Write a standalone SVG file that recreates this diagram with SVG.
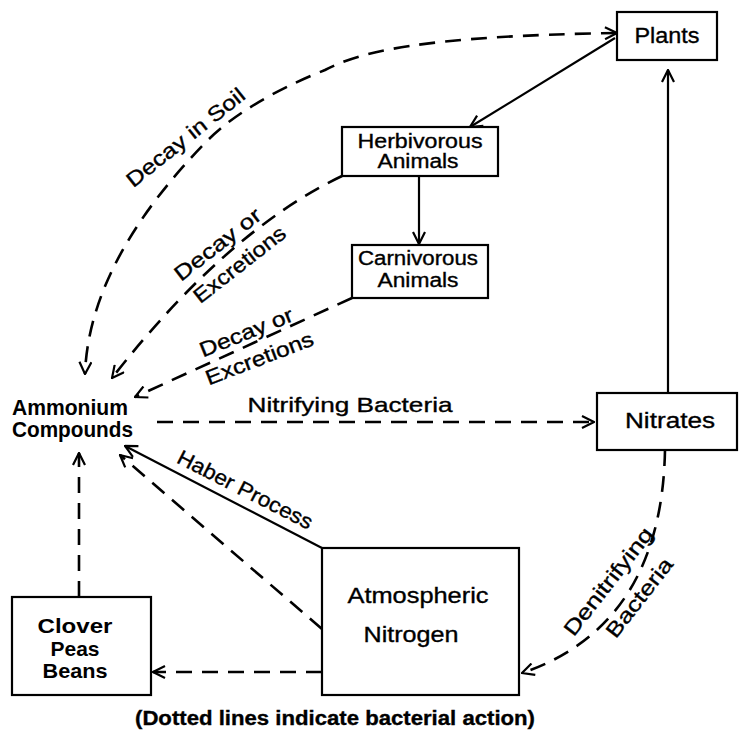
<svg xmlns="http://www.w3.org/2000/svg" width="739" height="733" viewBox="0 0 739 733">
<style>
text{font-family:"Liberation Sans",Arial,sans-serif;fill:#000;stroke:#000;stroke-width:0.35}
.n{font-size:22px;text-anchor:middle}
.n2{font-size:20px;text-anchor:middle}
.b{font-size:21.5px;font-weight:bold;stroke-width:0}
.bc{font-size:21px;font-weight:bold;text-anchor:middle;stroke-width:0}
.e{font-size:21px;text-anchor:middle}
.box{fill:#fff;stroke:#000;stroke-width:2.2}
.s{fill:none;stroke:#000;stroke-width:2.2}
.d{fill:none;stroke:#000;stroke-width:2.6;stroke-dasharray:16 10}
</style>
<defs>
<marker id="ah" viewBox="0 0 14 14" refX="13" refY="7" markerWidth="14" markerHeight="14" markerUnits="userSpaceOnUse" orient="auto-start-reverse">
<path d="M1,1 L13,7 L1,13" fill="none" stroke="#000" stroke-width="2.2" stroke-dasharray="none"/>
</marker>
</defs>
<rect width="739" height="733" fill="#fff"/>
<g id="connectors">
<path class="s" d="M615,38 L470,127" marker-end="url(#ah)"/>
<path class="s" d="M419,176 L419,244" marker-end="url(#ah)"/>
<path class="s" d="M668,393 L668,70" marker-end="url(#ah)"/>
<path class="d" d="M617,33 C420,36 360,52 325,70 C290,84 240,108 208,140 C139,210 88,290 85,374" marker-start="url(#ah)" marker-end="url(#ah)"/>
<path class="d" d="M342,176 Q227,231 112,378" marker-end="url(#ah)"/>
<path class="d" d="M352,298 L135,397" marker-end="url(#ah)"/>
<path class="d" d="M157,422 L594,422" marker-end="url(#ah)"/>
<path class="d" d="M79,597 L79,453" marker-end="url(#ah)"/>
<path class="s" d="M322,548 L125,446" marker-end="url(#ah)"/>
<path class="d" d="M322,629 L120,455" marker-end="url(#ah)"/>
<path class="d" d="M322,672 L153,672" marker-end="url(#ah)"/>
<path class="d" d="M665,450 C663,560 620,640 522,673" marker-end="url(#ah)"/>
<text class="e" transform="translate(190,143) rotate(-38.5)" textLength="145" lengthAdjust="spacingAndGlyphs">Decay in Soil</text>
<text class="e" transform="translate(222,250) rotate(-38)" textLength="104" lengthAdjust="spacingAndGlyphs">Decay or</text>
<text class="e" transform="translate(244,270) rotate(-38)" textLength="111" lengthAdjust="spacingAndGlyphs">Excretions</text>
<text class="e" transform="translate(249,339) rotate(-22)" textLength="99" lengthAdjust="spacingAndGlyphs">Decay or</text>
<text class="e" transform="translate(262,365) rotate(-21)" textLength="114" lengthAdjust="spacingAndGlyphs">Excretions</text>
<text class="e" x="350" y="412" textLength="205" lengthAdjust="spacingAndGlyphs">Nitrifying Bacteria</text>
<text class="e" transform="translate(242,496) rotate(27)" textLength="149" lengthAdjust="spacingAndGlyphs">Haber Process</text>
<text class="e" transform="translate(614,586) rotate(-52)" textLength="131" lengthAdjust="spacingAndGlyphs">Denitrifying</text>
<text class="e" transform="translate(645,602) rotate(-52)" textLength="95" lengthAdjust="spacingAndGlyphs">Bacteria</text>
</g>
<g id="plants">
<rect class="box" x="617" y="12" width="100" height="48"/>
<text class="n" x="667" y="43" textLength="65" lengthAdjust="spacingAndGlyphs">Plants</text>
</g>
<g id="herbivorous">
<rect class="box" x="342" y="127" width="156" height="49"/>
<text class="n2" x="420" y="148" textLength="125" lengthAdjust="spacingAndGlyphs">Herbivorous</text>
<text class="n2" x="418" y="168" textLength="81" lengthAdjust="spacingAndGlyphs">Animals</text>
</g>
<g id="carnivorous">
<rect class="box" x="352" y="245" width="136" height="53"/>
<text class="n2" x="418" y="265" textLength="120" lengthAdjust="spacingAndGlyphs">Carnivorous</text>
<text class="n2" x="418" y="287" textLength="81" lengthAdjust="spacingAndGlyphs">Animals</text>
</g>
<g id="ammonium">
<text class="b" x="12" y="415" textLength="116" lengthAdjust="spacingAndGlyphs">Ammonium</text>
<text class="b" x="12" y="437" textLength="121" lengthAdjust="spacingAndGlyphs">Compounds</text>
</g>
<g id="nitrates">
<rect class="box" x="597" y="393" width="140" height="57"/>
<text class="n" x="670" y="428" textLength="90" lengthAdjust="spacingAndGlyphs">Nitrates</text>
</g>
<g id="clover">
<rect class="box" x="12" y="597" width="139" height="98"/>
<text class="bc" x="75" y="633" textLength="75" lengthAdjust="spacingAndGlyphs">Clover</text>
<text class="bc" x="75" y="656" textLength="49" lengthAdjust="spacingAndGlyphs">Peas</text>
<text class="bc" x="75" y="678" textLength="65" lengthAdjust="spacingAndGlyphs">Beans</text>
</g>
<g id="atmospheric">
<rect class="box" x="322" y="548" width="197" height="147"/>
<text class="n" x="418" y="603" textLength="141" lengthAdjust="spacingAndGlyphs">Atmospheric</text>
<text class="n" x="411" y="642" textLength="95" lengthAdjust="spacingAndGlyphs">Nitrogen</text>
</g>
<text x="335" y="725" font-size="20" font-weight="bold" text-anchor="middle" stroke-width="0" textLength="400" lengthAdjust="spacingAndGlyphs">(Dotted lines indicate bacterial action)</text>
</svg>
